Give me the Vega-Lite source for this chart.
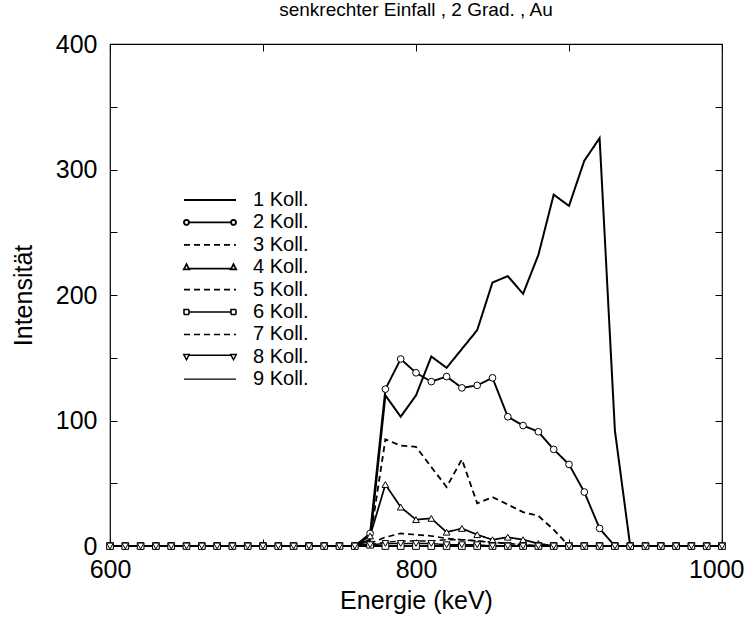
{
"$schema": "https://vega.github.io/schema/vega-lite/v6.json",
"width": 612, "height": 502,
"autosize": {"type": "none"},
"padding": {"left": 110, "top": 44, "right": 24, "bottom": 71},
"background": "white",
"title": {"text": "senkrechter Einfall , 2 Grad. , Au", "fontSize": 19, "fontWeight": "normal", "font": "Liberation Sans", "color": "black", "offset": 12, "anchor": "middle"},
"config": {
 "view": {"stroke": "black", "strokeWidth": 1.2},
 "font": "Liberation Sans",
 "title": {"fontSize": 19, "fontWeight": "normal"},
 "axis": {"grid": false, "domain": false, "tickColor": "black", "tickSize": -7, "tickWidth": 1, "labelFontSize": 25, "labelColor": "black", "titleFontSize": 25, "titleFontWeight": "normal", "titleColor": "black", "labelFont": "Liberation Sans", "titleFont": "Liberation Sans", "labelFlush": false, "labelOverlap": false}
},
"data": {"values": [
{"s":"1 Koll.","e":600,"v":0},{"s":"1 Koll.","e":610,"v":0},{"s":"1 Koll.","e":620,"v":0},{"s":"1 Koll.","e":630,"v":0},{"s":"1 Koll.","e":640,"v":0},{"s":"1 Koll.","e":650,"v":0},{"s":"1 Koll.","e":660,"v":0},{"s":"1 Koll.","e":670,"v":0},{"s":"1 Koll.","e":680,"v":0},{"s":"1 Koll.","e":690,"v":0},{"s":"1 Koll.","e":700,"v":0},{"s":"1 Koll.","e":710,"v":0},{"s":"1 Koll.","e":720,"v":0},{"s":"1 Koll.","e":730,"v":0},{"s":"1 Koll.","e":740,"v":0},{"s":"1 Koll.","e":750,"v":0},{"s":"1 Koll.","e":760,"v":0},{"s":"1 Koll.","e":770,"v":5},{"s":"1 Koll.","e":780,"v":120},{"s":"1 Koll.","e":790,"v":103},{"s":"1 Koll.","e":800,"v":120},{"s":"1 Koll.","e":810,"v":151},{"s":"1 Koll.","e":820,"v":142},{"s":"1 Koll.","e":830,"v":157},{"s":"1 Koll.","e":840,"v":172},{"s":"1 Koll.","e":850,"v":210},{"s":"1 Koll.","e":860,"v":215},{"s":"1 Koll.","e":870,"v":201},{"s":"1 Koll.","e":880,"v":232},{"s":"1 Koll.","e":890,"v":280},{"s":"1 Koll.","e":900,"v":271},{"s":"1 Koll.","e":910,"v":307},{"s":"1 Koll.","e":920,"v":325},{"s":"1 Koll.","e":930,"v":92},{"s":"1 Koll.","e":940,"v":0},{"s":"1 Koll.","e":950,"v":0},{"s":"1 Koll.","e":960,"v":0},{"s":"1 Koll.","e":970,"v":0},{"s":"1 Koll.","e":980,"v":0},{"s":"1 Koll.","e":990,"v":0},{"s":"1 Koll.","e":1000,"v":0},
{"s":"2 Koll.","e":600,"v":0},{"s":"2 Koll.","e":610,"v":0},{"s":"2 Koll.","e":620,"v":0},{"s":"2 Koll.","e":630,"v":0},{"s":"2 Koll.","e":640,"v":0},{"s":"2 Koll.","e":650,"v":0},{"s":"2 Koll.","e":660,"v":0},{"s":"2 Koll.","e":670,"v":0},{"s":"2 Koll.","e":680,"v":0},{"s":"2 Koll.","e":690,"v":0},{"s":"2 Koll.","e":700,"v":0},{"s":"2 Koll.","e":710,"v":0},{"s":"2 Koll.","e":720,"v":0},{"s":"2 Koll.","e":730,"v":0},{"s":"2 Koll.","e":740,"v":0},{"s":"2 Koll.","e":750,"v":0},{"s":"2 Koll.","e":760,"v":0},{"s":"2 Koll.","e":770,"v":10},{"s":"2 Koll.","e":780,"v":125},{"s":"2 Koll.","e":790,"v":149},{"s":"2 Koll.","e":800,"v":138},{"s":"2 Koll.","e":810,"v":131},{"s":"2 Koll.","e":820,"v":135},{"s":"2 Koll.","e":830,"v":126},{"s":"2 Koll.","e":840,"v":128},{"s":"2 Koll.","e":850,"v":134},{"s":"2 Koll.","e":860,"v":103},{"s":"2 Koll.","e":870,"v":96},{"s":"2 Koll.","e":880,"v":91},{"s":"2 Koll.","e":890,"v":77},{"s":"2 Koll.","e":900,"v":65},{"s":"2 Koll.","e":910,"v":43},{"s":"2 Koll.","e":920,"v":14},{"s":"2 Koll.","e":930,"v":0},{"s":"2 Koll.","e":940,"v":0},{"s":"2 Koll.","e":950,"v":0},{"s":"2 Koll.","e":960,"v":0},{"s":"2 Koll.","e":970,"v":0},{"s":"2 Koll.","e":980,"v":0},{"s":"2 Koll.","e":990,"v":0},{"s":"2 Koll.","e":1000,"v":0},
{"s":"3 Koll.","e":600,"v":0},{"s":"3 Koll.","e":610,"v":0},{"s":"3 Koll.","e":620,"v":0},{"s":"3 Koll.","e":630,"v":0},{"s":"3 Koll.","e":640,"v":0},{"s":"3 Koll.","e":650,"v":0},{"s":"3 Koll.","e":660,"v":0},{"s":"3 Koll.","e":670,"v":0},{"s":"3 Koll.","e":680,"v":0},{"s":"3 Koll.","e":690,"v":0},{"s":"3 Koll.","e":700,"v":0},{"s":"3 Koll.","e":710,"v":0},{"s":"3 Koll.","e":720,"v":0},{"s":"3 Koll.","e":730,"v":0},{"s":"3 Koll.","e":740,"v":0},{"s":"3 Koll.","e":750,"v":0},{"s":"3 Koll.","e":760,"v":0},{"s":"3 Koll.","e":770,"v":5},{"s":"3 Koll.","e":780,"v":85},{"s":"3 Koll.","e":790,"v":80},{"s":"3 Koll.","e":800,"v":79},{"s":"3 Koll.","e":810,"v":63},{"s":"3 Koll.","e":820,"v":47},{"s":"3 Koll.","e":830,"v":69},{"s":"3 Koll.","e":840,"v":34},{"s":"3 Koll.","e":850,"v":39},{"s":"3 Koll.","e":860,"v":33},{"s":"3 Koll.","e":870,"v":27},{"s":"3 Koll.","e":880,"v":24},{"s":"3 Koll.","e":890,"v":13},{"s":"3 Koll.","e":900,"v":0},{"s":"3 Koll.","e":910,"v":0},{"s":"3 Koll.","e":920,"v":0},{"s":"3 Koll.","e":930,"v":0},{"s":"3 Koll.","e":940,"v":0},{"s":"3 Koll.","e":950,"v":0},{"s":"3 Koll.","e":960,"v":0},{"s":"3 Koll.","e":970,"v":0},{"s":"3 Koll.","e":980,"v":0},{"s":"3 Koll.","e":990,"v":0},{"s":"3 Koll.","e":1000,"v":0},
{"s":"4 Koll.","e":600,"v":0},{"s":"4 Koll.","e":610,"v":0},{"s":"4 Koll.","e":620,"v":0},{"s":"4 Koll.","e":630,"v":0},{"s":"4 Koll.","e":640,"v":0},{"s":"4 Koll.","e":650,"v":0},{"s":"4 Koll.","e":660,"v":0},{"s":"4 Koll.","e":670,"v":0},{"s":"4 Koll.","e":680,"v":0},{"s":"4 Koll.","e":690,"v":0},{"s":"4 Koll.","e":700,"v":0},{"s":"4 Koll.","e":710,"v":0},{"s":"4 Koll.","e":720,"v":0},{"s":"4 Koll.","e":730,"v":0},{"s":"4 Koll.","e":740,"v":0},{"s":"4 Koll.","e":750,"v":0},{"s":"4 Koll.","e":760,"v":0},{"s":"4 Koll.","e":770,"v":8},{"s":"4 Koll.","e":780,"v":49},{"s":"4 Koll.","e":790,"v":31},{"s":"4 Koll.","e":800,"v":21},{"s":"4 Koll.","e":810,"v":22},{"s":"4 Koll.","e":820,"v":11},{"s":"4 Koll.","e":830,"v":14},{"s":"4 Koll.","e":840,"v":9},{"s":"4 Koll.","e":850,"v":5},{"s":"4 Koll.","e":860,"v":7},{"s":"4 Koll.","e":870,"v":5},{"s":"4 Koll.","e":880,"v":2},{"s":"4 Koll.","e":890,"v":0},{"s":"4 Koll.","e":900,"v":0},{"s":"4 Koll.","e":910,"v":0},{"s":"4 Koll.","e":920,"v":0},{"s":"4 Koll.","e":930,"v":0},{"s":"4 Koll.","e":940,"v":0},{"s":"4 Koll.","e":950,"v":0},{"s":"4 Koll.","e":960,"v":0},{"s":"4 Koll.","e":970,"v":0},{"s":"4 Koll.","e":980,"v":0},{"s":"4 Koll.","e":990,"v":0},{"s":"4 Koll.","e":1000,"v":0},
{"s":"5 Koll.","e":600,"v":0},{"s":"5 Koll.","e":610,"v":0},{"s":"5 Koll.","e":620,"v":0},{"s":"5 Koll.","e":630,"v":0},{"s":"5 Koll.","e":640,"v":0},{"s":"5 Koll.","e":650,"v":0},{"s":"5 Koll.","e":660,"v":0},{"s":"5 Koll.","e":670,"v":0},{"s":"5 Koll.","e":680,"v":0},{"s":"5 Koll.","e":690,"v":0},{"s":"5 Koll.","e":700,"v":0},{"s":"5 Koll.","e":710,"v":0},{"s":"5 Koll.","e":720,"v":0},{"s":"5 Koll.","e":730,"v":0},{"s":"5 Koll.","e":740,"v":0},{"s":"5 Koll.","e":750,"v":0},{"s":"5 Koll.","e":760,"v":0},{"s":"5 Koll.","e":770,"v":2},{"s":"5 Koll.","e":780,"v":7},{"s":"5 Koll.","e":790,"v":10},{"s":"5 Koll.","e":800,"v":9},{"s":"5 Koll.","e":810,"v":8},{"s":"5 Koll.","e":820,"v":6},{"s":"5 Koll.","e":830,"v":5},{"s":"5 Koll.","e":840,"v":4},{"s":"5 Koll.","e":850,"v":3},{"s":"5 Koll.","e":860,"v":2},{"s":"5 Koll.","e":870,"v":1},{"s":"5 Koll.","e":880,"v":0},{"s":"5 Koll.","e":890,"v":0},{"s":"5 Koll.","e":900,"v":0},{"s":"5 Koll.","e":910,"v":0},{"s":"5 Koll.","e":920,"v":0},{"s":"5 Koll.","e":930,"v":0},{"s":"5 Koll.","e":940,"v":0},{"s":"5 Koll.","e":950,"v":0},{"s":"5 Koll.","e":960,"v":0},{"s":"5 Koll.","e":970,"v":0},{"s":"5 Koll.","e":980,"v":0},{"s":"5 Koll.","e":990,"v":0},{"s":"5 Koll.","e":1000,"v":0},
{"s":"6 Koll.","e":600,"v":0},{"s":"6 Koll.","e":610,"v":0},{"s":"6 Koll.","e":620,"v":0},{"s":"6 Koll.","e":630,"v":0},{"s":"6 Koll.","e":640,"v":0},{"s":"6 Koll.","e":650,"v":0},{"s":"6 Koll.","e":660,"v":0},{"s":"6 Koll.","e":670,"v":0},{"s":"6 Koll.","e":680,"v":0},{"s":"6 Koll.","e":690,"v":0},{"s":"6 Koll.","e":700,"v":0},{"s":"6 Koll.","e":710,"v":0},{"s":"6 Koll.","e":720,"v":0},{"s":"6 Koll.","e":730,"v":0},{"s":"6 Koll.","e":740,"v":0},{"s":"6 Koll.","e":750,"v":0},{"s":"6 Koll.","e":760,"v":0},{"s":"6 Koll.","e":770,"v":1},{"s":"6 Koll.","e":780,"v":0},{"s":"6 Koll.","e":790,"v":0},{"s":"6 Koll.","e":800,"v":0},{"s":"6 Koll.","e":810,"v":0},{"s":"6 Koll.","e":820,"v":0},{"s":"6 Koll.","e":830,"v":0},{"s":"6 Koll.","e":840,"v":0},{"s":"6 Koll.","e":850,"v":0},{"s":"6 Koll.","e":860,"v":0},{"s":"6 Koll.","e":870,"v":0},{"s":"6 Koll.","e":880,"v":0},{"s":"6 Koll.","e":890,"v":0},{"s":"6 Koll.","e":900,"v":0},{"s":"6 Koll.","e":910,"v":0},{"s":"6 Koll.","e":920,"v":0},{"s":"6 Koll.","e":930,"v":0},{"s":"6 Koll.","e":940,"v":0},{"s":"6 Koll.","e":950,"v":0},{"s":"6 Koll.","e":960,"v":0},{"s":"6 Koll.","e":970,"v":0},{"s":"6 Koll.","e":980,"v":0},{"s":"6 Koll.","e":990,"v":0},{"s":"6 Koll.","e":1000,"v":0},
{"s":"7 Koll.","e":600,"v":0},{"s":"7 Koll.","e":610,"v":0},{"s":"7 Koll.","e":620,"v":0},{"s":"7 Koll.","e":630,"v":0},{"s":"7 Koll.","e":640,"v":0},{"s":"7 Koll.","e":650,"v":0},{"s":"7 Koll.","e":660,"v":0},{"s":"7 Koll.","e":670,"v":0},{"s":"7 Koll.","e":680,"v":0},{"s":"7 Koll.","e":690,"v":0},{"s":"7 Koll.","e":700,"v":0},{"s":"7 Koll.","e":710,"v":0},{"s":"7 Koll.","e":720,"v":0},{"s":"7 Koll.","e":730,"v":0},{"s":"7 Koll.","e":740,"v":0},{"s":"7 Koll.","e":750,"v":0},{"s":"7 Koll.","e":760,"v":0},{"s":"7 Koll.","e":770,"v":1},{"s":"7 Koll.","e":780,"v":3},{"s":"7 Koll.","e":790,"v":4},{"s":"7 Koll.","e":800,"v":4},{"s":"7 Koll.","e":810,"v":4},{"s":"7 Koll.","e":820,"v":5},{"s":"7 Koll.","e":830,"v":5},{"s":"7 Koll.","e":840,"v":4},{"s":"7 Koll.","e":850,"v":3},{"s":"7 Koll.","e":860,"v":2},{"s":"7 Koll.","e":870,"v":1},{"s":"7 Koll.","e":880,"v":0},{"s":"7 Koll.","e":890,"v":0},{"s":"7 Koll.","e":900,"v":0},{"s":"7 Koll.","e":910,"v":0},{"s":"7 Koll.","e":920,"v":0},{"s":"7 Koll.","e":930,"v":0},{"s":"7 Koll.","e":940,"v":0},{"s":"7 Koll.","e":950,"v":0},{"s":"7 Koll.","e":960,"v":0},{"s":"7 Koll.","e":970,"v":0},{"s":"7 Koll.","e":980,"v":0},{"s":"7 Koll.","e":990,"v":0},{"s":"7 Koll.","e":1000,"v":0},
{"s":"8 Koll.","e":600,"v":0},{"s":"8 Koll.","e":610,"v":0},{"s":"8 Koll.","e":620,"v":0},{"s":"8 Koll.","e":630,"v":0},{"s":"8 Koll.","e":640,"v":0},{"s":"8 Koll.","e":650,"v":0},{"s":"8 Koll.","e":660,"v":0},{"s":"8 Koll.","e":670,"v":0},{"s":"8 Koll.","e":680,"v":0},{"s":"8 Koll.","e":690,"v":0},{"s":"8 Koll.","e":700,"v":0},{"s":"8 Koll.","e":710,"v":0},{"s":"8 Koll.","e":720,"v":0},{"s":"8 Koll.","e":730,"v":0},{"s":"8 Koll.","e":740,"v":0},{"s":"8 Koll.","e":750,"v":0},{"s":"8 Koll.","e":760,"v":0},{"s":"8 Koll.","e":770,"v":1},{"s":"8 Koll.","e":780,"v":2},{"s":"8 Koll.","e":790,"v":2},{"s":"8 Koll.","e":800,"v":2},{"s":"8 Koll.","e":810,"v":2},{"s":"8 Koll.","e":820,"v":1},{"s":"8 Koll.","e":830,"v":1},{"s":"8 Koll.","e":840,"v":1},{"s":"8 Koll.","e":850,"v":0},{"s":"8 Koll.","e":860,"v":0},{"s":"8 Koll.","e":870,"v":0},{"s":"8 Koll.","e":880,"v":0},{"s":"8 Koll.","e":890,"v":0},{"s":"8 Koll.","e":900,"v":0},{"s":"8 Koll.","e":910,"v":0},{"s":"8 Koll.","e":920,"v":0},{"s":"8 Koll.","e":930,"v":0},{"s":"8 Koll.","e":940,"v":0},{"s":"8 Koll.","e":950,"v":0},{"s":"8 Koll.","e":960,"v":0},{"s":"8 Koll.","e":970,"v":0},{"s":"8 Koll.","e":980,"v":0},{"s":"8 Koll.","e":990,"v":0},{"s":"8 Koll.","e":1000,"v":0},
{"s":"9 Koll.","e":600,"v":0},{"s":"9 Koll.","e":610,"v":0},{"s":"9 Koll.","e":620,"v":0},{"s":"9 Koll.","e":630,"v":0},{"s":"9 Koll.","e":640,"v":0},{"s":"9 Koll.","e":650,"v":0},{"s":"9 Koll.","e":660,"v":0},{"s":"9 Koll.","e":670,"v":0},{"s":"9 Koll.","e":680,"v":0},{"s":"9 Koll.","e":690,"v":0},{"s":"9 Koll.","e":700,"v":0},{"s":"9 Koll.","e":710,"v":0},{"s":"9 Koll.","e":720,"v":0},{"s":"9 Koll.","e":730,"v":0},{"s":"9 Koll.","e":740,"v":0},{"s":"9 Koll.","e":750,"v":0},{"s":"9 Koll.","e":760,"v":0},{"s":"9 Koll.","e":770,"v":0},{"s":"9 Koll.","e":780,"v":0},{"s":"9 Koll.","e":790,"v":0},{"s":"9 Koll.","e":800,"v":0},{"s":"9 Koll.","e":810,"v":0},{"s":"9 Koll.","e":820,"v":0},{"s":"9 Koll.","e":830,"v":0},{"s":"9 Koll.","e":840,"v":0},{"s":"9 Koll.","e":850,"v":0},{"s":"9 Koll.","e":860,"v":0},{"s":"9 Koll.","e":870,"v":0},{"s":"9 Koll.","e":880,"v":0},{"s":"9 Koll.","e":890,"v":0},{"s":"9 Koll.","e":900,"v":0},{"s":"9 Koll.","e":910,"v":0},{"s":"9 Koll.","e":920,"v":0},{"s":"9 Koll.","e":930,"v":0},{"s":"9 Koll.","e":940,"v":0},{"s":"9 Koll.","e":950,"v":0},{"s":"9 Koll.","e":960,"v":0},{"s":"9 Koll.","e":970,"v":0},{"s":"9 Koll.","e":980,"v":0},{"s":"9 Koll.","e":990,"v":0},{"s":"9 Koll.","e":1000,"v":0}
]},
"layer": [
 {"mark": {"type": "line", "color": "black"},
  "encoding": {
   "x": {"field": "e", "type": "quantitative", "scale": {"domain": [600, 1000], "nice": false, "zero": false},
         "axis": {"orient": "bottom", "values": [600, 700, 800, 900, 1000], "format": "d", "labelExpr": "datum.value % 200 == 0 ? datum.label : ''", "labelAlign": {"expr": "datum.value == 1000 ? 'right' : 'center'"}, "labelOffset": {"expr": "datum.value == 1000 ? 22 : 0"}, "title": "Energie (keV)", "labelPadding": 18, "titlePadding": 6}},
   "y": {"field": "v", "type": "quantitative", "scale": {"domain": [0, 400], "nice": false},
         "axis": {"orient": "left", "values": [0, 50, 100, 150, 200, 250, 300, 350, 400], "format": "d", "labelExpr": "datum.value % 100 == 0 ? datum.label : ''", "title": "Intensität", "labelPadding": 20, "titlePadding": 19}},
   "strokeDash": {"field": "s", "type": "nominal",
     "scale": {"domain": ["1 Koll.", "2 Koll.", "3 Koll.", "4 Koll.", "5 Koll.", "6 Koll.", "7 Koll.", "8 Koll.", "9 Koll."],
               "range": [[1, 0], [1, 0], [6, 4], [1, 0], [6, 4], [1, 0], [6, 4], [1, 0], [1, 0]]},
     "legend": {"orient": "none", "legendX": 90, "legendY": 146, "title": null, "symbolSize": 100, "labelOffset": 33, "labelFontSize": 20, "labelFont": "Liberation Sans", "labelColor": "black", "rowPadding": 2.4, "padding": 0, "symbolStrokeColor": "black", "symbolStrokeWidth": 1,
       "encode": {"symbols": {"update": {"fill": {"value": "transparent"}, "stroke": {"value": "black"}, "strokeWidth": {"value": 1}, "opacity": {"value": 1},
         "shape": {"signal": "datum.value === '2 Koll.' ? 'M-5.2,0a0.5,0.5 0 1,0 1,0a0.5,0.5 0 1,0 -1,0M-4.2,0H4.2M4.2,0a0.5,0.5 0 1,0 1,0a0.5,0.5 0 1,0 -1,0' : datum.value === '4 Koll.' ? 'M-4.7,-0.6L-4.15,0.45L-5.25,0.45ZM-4.15,0.3H4.15M4.7,-0.6L5.25,0.45L4.15,0.45Z' : datum.value === '6 Koll.' ? 'M-5.2,-0.5H-4.2V0.5H-5.2ZM-4.2,0H4.2M4.2,-0.5H5.2V0.5H4.2Z' : datum.value === '8 Koll.' ? 'M-4.7,0.6L-4.15,-0.45L-5.25,-0.45ZM-4.15,-0.3H4.15M4.7,0.6L5.25,-0.45L4.15,-0.45Z' : 'M-5.2,0H5.2'"}}}}}},
   "strokeWidth": {"field": "s", "type": "nominal",
     "scale": {"domain": ["1 Koll.", "2 Koll.", "3 Koll.", "4 Koll.", "5 Koll.", "6 Koll.", "7 Koll.", "8 Koll.", "9 Koll."],
               "range": [2, 1.3, 1.2, 1.2, 1.2, 1.2, 1.2, 1.2, 1.2]}, "legend": null}
  }},
 {"transform": [{"filter": {"field": "s", "oneOf": ["2 Koll.", "4 Koll.", "6 Koll.", "8 Koll."]}}],
  "mark": {"type": "point", "filled": true, "fill": "white", "stroke": "black", "strokeWidth": 1, "size": 45, "opacity": 1},
  "encoding": {
   "x": {"field": "e", "type": "quantitative", "scale": {"domain": [600, 1000], "nice": false, "zero": false},
         "axis": {"orient": "top", "values": [600, 700, 800, 900, 1000], "labels": false, "title": null}},
   "y": {"field": "v", "type": "quantitative", "scale": {"domain": [0, 400], "nice": false},
         "axis": {"orient": "right", "values": [0, 50, 100, 150, 200, 250, 300, 350, 400], "labels": false, "title": null}},
   "shape": {"field": "s", "type": "nominal",
     "scale": {"domain": ["2 Koll.", "4 Koll.", "6 Koll.", "8 Koll."], "range": ["circle", "triangle-up", "square", "triangle-down"]},
     "legend": null}
  }}
],
"resolve": {"axis": {"x": "independent", "y": "independent"}}
}
